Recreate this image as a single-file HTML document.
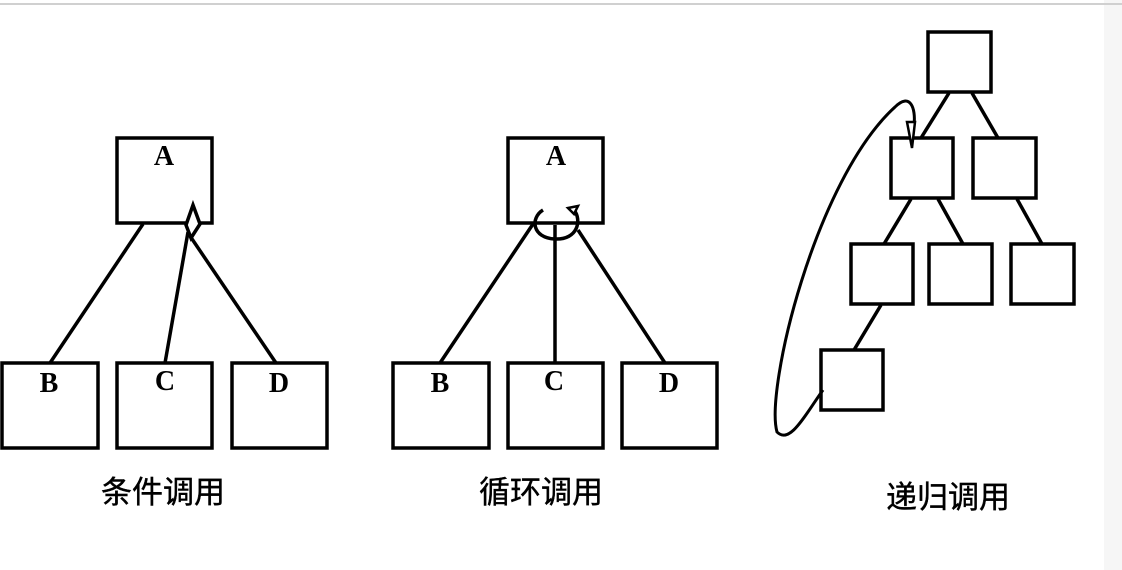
<!DOCTYPE html>
<html><head><meta charset="utf-8"><style>
html,body{margin:0;padding:0;background:#fff;width:1122px;height:570px;overflow:hidden}
</style></head><body>
<svg width="1122" height="570" viewBox="0 0 1122 570" xmlns="http://www.w3.org/2000/svg">
<rect x="1104" y="0" width="18" height="570" fill="#f6f6f6"/>
<line x1="0" y1="4" x2="1122" y2="4" stroke="#d0d0d0" stroke-width="2"/>
<g fill="none" stroke="#000" stroke-width="3.5">
<rect x="117" y="138" width="95" height="85"/>
<rect x="2" y="363" width="96" height="85"/>
<rect x="117" y="363" width="95" height="85"/>
<rect x="232" y="363" width="95" height="85"/>
<line x1="143" y1="224" x2="50" y2="363"/>
<polygon points="193,205 200,224 191,238 186,225" fill="#fff"/>
<line x1="188" y1="232" x2="165" y2="363"/>
<line x1="190" y1="236" x2="276" y2="363"/>
<rect x="508" y="138" width="95" height="85"/>
<rect x="393" y="363" width="96" height="85"/>
<rect x="508" y="363" width="95" height="85"/>
<rect x="622" y="363" width="95" height="85"/>
<line x1="533" y1="224" x2="440" y2="363"/>
<line x1="555" y1="225" x2="555" y2="363"/>
<line x1="578" y1="230" x2="665" y2="363"/>
<path d="M543,210 C530,218 532,238 555,239 C578,240 582,220 574,210"/>
<polygon points="568,208 578,206 574,214" fill="#fff" stroke-width="2.5"/>
<rect x="928" y="32" width="63" height="60"/>
<rect x="891" y="138" width="62" height="60"/>
<rect x="973" y="138" width="63" height="60"/>
<rect x="851" y="244" width="62" height="60"/>
<rect x="929" y="244" width="63" height="60"/>
<rect x="1011" y="244" width="63" height="60"/>
<rect x="821" y="350" width="62" height="60"/>
<line x1="949" y1="93" x2="921" y2="138"/>
<line x1="972" y1="93" x2="998" y2="138"/>
<line x1="911" y1="199" x2="884" y2="244"/>
<line x1="938" y1="199" x2="963" y2="244"/>
<line x1="1017" y1="199" x2="1042" y2="244"/>
<line x1="881" y1="305" x2="854" y2="350"/>
<path d="M823,390 C805,415 790,445 777,432 C765,390 815,180 895,107 C910,92 916,108 914,125" stroke-width="3"/>
<polygon points="907,122 915,122 912,148" fill="#fff" stroke-width="2.5"/>
</g>
<g font-family="Liberation Serif, serif" font-weight="bold" font-size="28" text-anchor="middle">
<text x="164" y="165">A</text><text x="49" y="392">B</text><text x="165" y="390">C</text><text x="279" y="392">D</text>
<text x="556" y="165">A</text><text x="440" y="392">B</text><text x="554" y="390">C</text><text x="669" y="392">D</text>
</g>
<g font-family="Liberation Sans, 'Noto Sans CJK SC', sans-serif" font-size="31" text-anchor="middle" stroke="#000" stroke-width="0.4">
<text x="163" y="503">条件调用</text>
<text x="541" y="503">循环调用</text>
<text x="948" y="508">递归调用</text>
</g>
</svg>
</body></html>
